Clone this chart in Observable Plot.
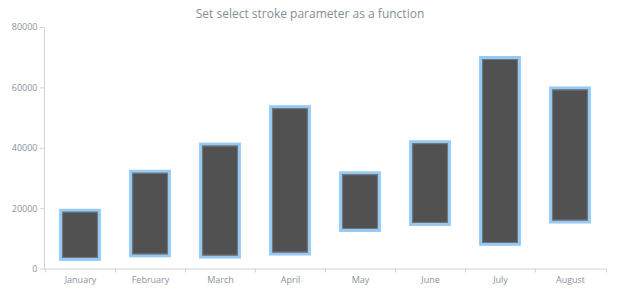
<!DOCTYPE html>
<html>
<head>
<meta charset="utf-8">
<script src="https://cdn.jsdelivr.net/npm/d3@7"></script>
<script src="https://cdn.jsdelivr.net/npm/@observablehq/plot@0.6"></script>
<style>
  html, body { margin: 0; padding: 0; background: #fff; }
  #wrap { position: relative; width: 620px; height: 300px; font-family: "Open Sans", sans-serif; }
  #title { position: absolute; top: 5px; left: 0; width: 620px; text-align: center; font-size: 12px; color: #858e96; }
</style>
</head>
<body>
<div id="wrap">
  <div id="title">Set select stroke parameter as a function</div>
  <div id="chart"></div>
</div>
<script>
const months = ["January", "February", "March", "April", "May", "June", "July", "August"];
const lows   = [3000, 4200, 3800, 4800, 12600, 14600, 8000, 15400];
const highs  = [19300, 32200, 41200, 53600, 31700, 42000, 69900, 59800];
const yTicks = [0, 20000, 40000, 60000, 80000];

const data = months.map((m, i) => ({month: m, low: lows[i], high: highs[i]}));

function frameLines(index, scales, values, dimensions) {
  const x = scales.x, y = scales.y;
  const {width, marginLeft, marginRight} = dimensions;
  const g = d3.create("svg:g");
  const y0 = y(0), yTop = y(80000);
  g.append("line").attr("x1", marginLeft + 0.5).attr("x2", marginLeft + 0.5)
    .attr("y1", yTop).attr("y2", y0).attr("stroke", "#d4d4d4");
  g.append("line").attr("x1", marginLeft).attr("x2", width - marginRight)
    .attr("y1", y0 + 0.5).attr("y2", y0 + 0.5).attr("stroke", "#d4d4d4");
  const bounds = months.map(m => x(m)).concat([width - marginRight]);
  for (const b of bounds) {
    const bx = Math.round(b) + 0.5;
    g.append("line").attr("x1", bx).attr("x2", bx)
      .attr("y1", y0).attr("y2", y0 + 4).attr("stroke", "#d4d4d4");
  }
  return g.node();
}

const chart = Plot.plot({
  width: 620,
  height: 300,
  marginTop: 27,
  marginBottom: 31.5,
  marginLeft: 44,
  marginRight: 14,
  style: {fontFamily: "'Open Sans', sans-serif", fontSize: "9px", color: "#8a939b", background: "#fff"},
  x: {domain: months, padding: 0, label: null},
  y: {domain: [0, 80000], label: null},
  marks: [
    Plot.axisY({ticks: yTicks, tickFormat: d => String(d), tickSize: 4, tickPadding: 3, stroke: "#d4d4d4", fill: "#8a939b", label: null}),
    Plot.axisX({tickSize: 0, tickPadding: 8, fill: "#8a939b", label: null}),
    frameLines,
    Plot.barY(data, {x: "month", y1: "low", y2: "high", fill: "#515151", stroke: "#95caf5", strokeWidth: 3, insetLeft: 15.6, insetRight: 15.6}),
    Plot.barY(data, {x: "month", y1: "low", y2: "high", fill: "none", stroke: "#777", strokeWidth: 1, insetLeft: 17.6, insetRight: 17.6, insetTop: 2, insetBottom: 2})
  ]
});
document.getElementById("chart").appendChild(chart);
</script>
</body>
</html>
